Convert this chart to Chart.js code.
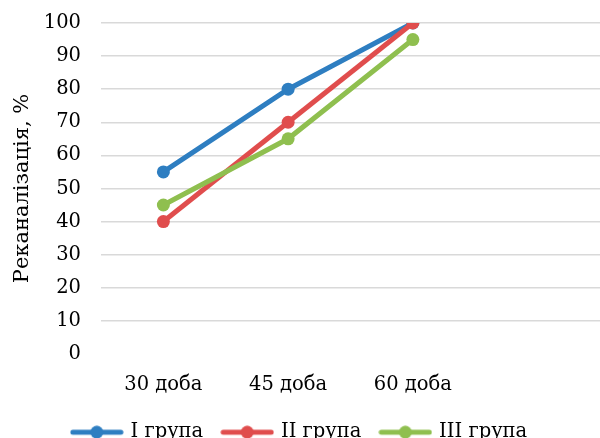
<!DOCTYPE html>
<html lang="uk">
  <head>
    <meta charset="utf-8" />
    <title>Реканалізація</title>
    <style>
      * {
        margin: 0;
        padding: 0;
      }
      body {
        background: white;
        overflow: hidden;
      }
      .chartBox {
        width: 600px;
        height: 452px;
      }
    </style>
  </head>
  <body>
    <div class="chartBox">
      <canvas id="myChart"></canvas>
    </div>

    <script src="https://cdn.jsdelivr.net/npm/chart.js@4.4.0/dist/chart.umd.min.js"></script>

    <script>
      // data block
      const days = ["30 доба", "45 доба", "60 доба", ""];
      const group1 = [55, 80, 100];
      const group2 = [40, 70, 100];
      const group3 = [45, 65, 95];
      const yTicks = [0, 10, 20, 30, 40, 50, 60, 70, 80, 90, 100];

      const FONT = "'DejaVu Serif', serif";

      // legend marker: line with a dot
      function marker(color) {
        const c = document.createElement("canvas");
        c.width = 54;
        c.height = 14;
        const g = c.getContext("2d");
        g.strokeStyle = color;
        g.lineWidth = 5;
        g.lineCap = "round";
        g.beginPath();
        g.moveTo(3, 7);
        g.lineTo(51, 7);
        g.stroke();
        g.fillStyle = color;
        g.beginPath();
        g.arc(27, 7, 6.5, 0, Math.PI * 2);
        g.fill();
        return c;
      }

      const colors = ["#2e7ec1", "#e04d4d", "#8fbf4f"];

      const makeSet = (label, values, color, order) => ({
        label: label,
        data: values,
        borderColor: color,
        backgroundColor: color,
        borderWidth: 5,
        pointRadius: 6.5,
        pointHoverRadius: 6.5,
        pointBorderWidth: 0,
        pointStyle: "circle",
        legendMarker: marker(color),
        pointBackgroundColor: color,
        order: order,
      });

      const data = {
        labels: days,
        datasets: [
          makeSet("I група", group1, colors[0], 2),
          makeSet("II група", group2, colors[1], 1),
          makeSet("III група", group3, colors[2], 0),
        ],
      };

      const config = {
        type: "line",
        data: data,
        options: {
          responsive: true,
          maintainAspectRatio: false,
          animation: false,
          layout: { padding: 0, autoPadding: false },
          scales: {
            x: {
              offset: true,
              grid: { display: false },
              border: { display: false },
              afterFit: (scale) => {
                scale.height = 48.6;
                scale.paddingLeft = 0;
                scale.paddingRight = 0;
              },
              ticks: {
                color: "#000",
                font: { family: FONT, size: 19.5 },
                padding: 11,
              },
            },
            y: {
              min: 0,
              max: 100,
              afterBuildTicks: (scale) => {
                scale.ticks = yTicks.map((v) => ({ value: v }));
              },
              afterFit: (scale) => {
                scale.width = 101;
                scale.paddingTop = 23;
              },
              grid: {
                color: (ctx) =>
                  ctx.tick && ctx.tick.value === 0 ? "rgba(0,0,0,0)" : "#d9d9d9",
                lineWidth: 1.5,
                drawTicks: false,
              },
              border: { display: false },
              ticks: {
                color: "#000",
                font: { family: FONT, size: 19.5 },
                padding: 20,
              },
              title: {
                display: true,
                text: "Реканалізація, %",
                color: "#000",
                font: { family: FONT, size: 21 },
                padding: { top: 10, bottom: 0 },
              },
            },
          },
          plugins: {
            legend: {
              position: "bottom",
              labels: {
                usePointStyle: true,
                pointStyleWidth: 48,
                color: "#000",
                font: { family: FONT, size: 19.5 },
                padding: 20,
                generateLabels: (chart) =>
                  chart.data.datasets.map((d, i) => ({
                    text: d.label,
                    datasetIndex: i,
                    pointStyle: d.legendMarker,
                    fillStyle: d.borderColor,
                    strokeStyle: d.borderColor,
                    lineWidth: 0,
                    hidden: false,
                    fontColor: "#000",
                  })),
              },
            },
            tooltip: { enabled: false },
          },
        },
      };

      // init render block
      const myChart = new Chart(document.getElementById("myChart"), config);
    </script>
  </body>
</html>
